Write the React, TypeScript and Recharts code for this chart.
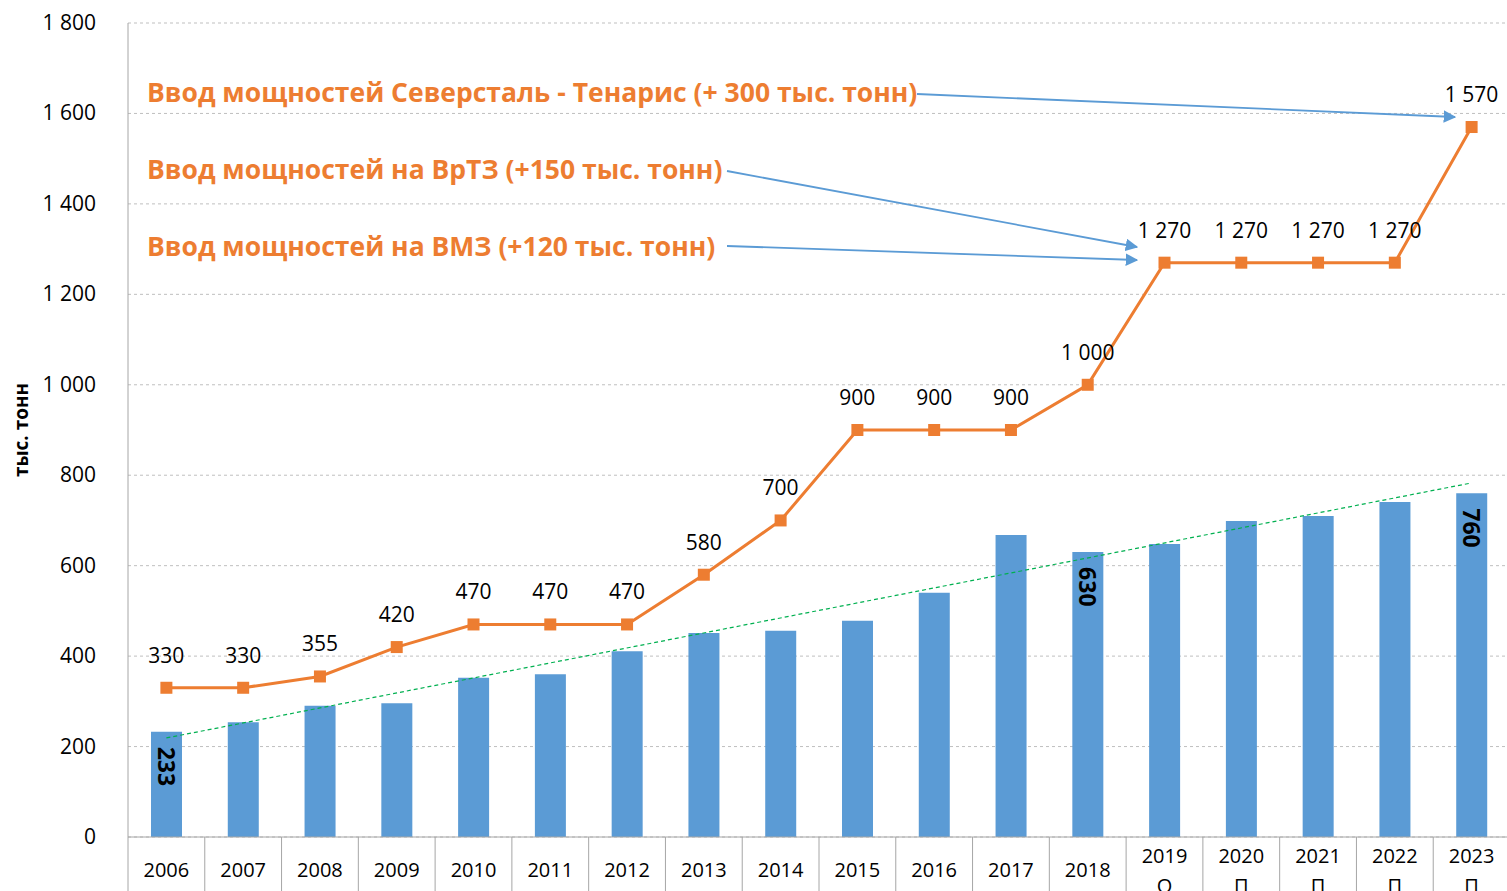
import React from 'react';
import { ComposedChart, Bar, Line, XAxis, YAxis, CartesianGrid, LabelList } from 'recharts';

const years = ['2006', '2007', '2008', '2009', '2010', '2011', '2012', '2013', '2014', '2015', '2016', '2017', '2018', '2019', '2020', '2021', '2022', '2023'];
const yearNotes = ['', '', '', '', '', '', '', '', '', '', '', '', '', 'О', 'П', 'П', 'П', 'П'];
const production = [233, 254, 290, 296, 352, 360, 411, 451, 456, 478, 540, 668, 630, 648, 699, 710, 741, 760];
const capacity = [330, 330, 355, 420, 470, 470, 470, 580, 700, 900, 900, 900, 1000, 1270, 1270, 1270, 1270, 1570];
const trendEnds: (number | null)[] = [219, null, null, null, null, null, null, null, null, null, null, null, null, null, null, null, null, 783];
const barLabelYears = ['2006', '2018', '2023'];
const yTicks = [0, 200, 400, 600, 800, 1000, 1200, 1400, 1600, 1800];
const annotations = [
  'Ввод мощностей Северсталь - Тенарис (+ 300 тыс. тонн)',
  'Ввод мощностей на ВрТЗ (+150 тыс. тонн)',
  'Ввод мощностей на ВМЗ (+120 тыс. тонн)',
];

const data = years.map((y, i) => ({
  year: y,
  note: yearNotes[i],
  production: production[i],
  capacity: capacity[i],
  trend: trendEnds[i],
}));

const FONT = "'Open Sans', Lato, sans-serif";
const BAR = '#5B9BD5';
const ORANGE = '#ED7D31';
const AXIS = '#A6A6A6';
const BAND = 1382 / 18;

const fmt = (v: any) => {
  const n = Number(v);
  if (n >= 1000) {
    const s = String(n);
    return s.slice(0, s.length - 3) + ' ' + s.slice(s.length - 3);
  }
  return String(n);
};

const XTick = (props: any) => {
  const { x, y, payload } = props;
  const idx = payload.index;
  const note = yearNotes[idx];
  const left = x - BAND / 2;
  return (
    <g>
      <line x1={left} y1={y} x2={left} y2={y + 60} stroke={AXIS} strokeWidth={1} />
      {note ? (
        <>
          <text x={x} y={y + 26} textAnchor="middle" fontFamily={FONT} fontSize={20} fill="#000">{payload.value}</text>
          <text x={x} y={y + 56} textAnchor="middle" fontFamily={FONT} fontSize={20} fill="#000">{note}</text>
        </>
      ) : (
        <text x={x} y={y + 40} textAnchor="middle" fontFamily={FONT} fontSize={20} fill="#000">{payload.value}</text>
      )}
    </g>
  );
};

const YTick = (props: any) => {
  const { x, y, payload } = props;
  return (
    <text x={x - 24} y={y + 7} textAnchor="end" fontFamily={FONT} fontSize={21} fill="#000">
      {fmt(payload.value)}
    </text>
  );
};

const SquareDot = (props: any) => {
  const { cx, cy } = props;
  if (cx == null || cy == null) return null;
  return <rect x={cx - 6} y={cy - 6} width={12} height={12} fill={ORANGE} />;
};

const BarLabel = (props: any) => {
  const { x, y, width, value, index } = props;
  if (!barLabelYears.includes(years[index])) return null;
  const cx = x + width / 2;
  const ty = y + 15;
  return (
    <text
      x={cx}
      y={ty}
      transform={`rotate(90 ${cx} ${ty})`}
      textAnchor="start"
      dominantBaseline="central"
      fontFamily={FONT}
      fontWeight="bold"
      fontSize={23}
      fill="#000"
    >
      {value}
    </text>
  );
};

export default function App() {
  return (
    <div style={{ position: 'fixed', left: 0, top: 0, width: 1507, height: 891, overflow: 'hidden', background: '#fff' }}>
      <ComposedChart
        width={1510}
        height={891}
        data={data}
        margin={{ top: 23, right: 0, bottom: 0, left: 0 }}
      >
        <CartesianGrid vertical={false} stroke="#BFBFBF" strokeDasharray="3 3" />
        <XAxis
          dataKey="year"
          height={54}
          interval={0}
          tickLine={false}
          tickSize={0}
          tickMargin={0}
          axisLine={{ stroke: AXIS }}
          tick={<XTick />}
        />
        <YAxis
          width={128}
          domain={[0, 1800]}
          ticks={yTicks}
          interval={0}
          tickLine={false}
          axisLine={{ stroke: AXIS }}
          tick={<YTick />}
        />
        <Bar dataKey="production" fill={BAR} barSize={31} isAnimationActive={false}>
          <LabelList dataKey="production" content={<BarLabel />} />
        </Bar>
        <Line
          dataKey="trend"
          stroke="#00B050"
          strokeWidth={1.2}
          strokeDasharray="4 3"
          dot={false}
          connectNulls
          isAnimationActive={false}
        />
        <Line
          dataKey="capacity"
          stroke={ORANGE}
          strokeWidth={3}
          dot={<SquareDot />}
          isAnimationActive={false}
        >
          <LabelList
            dataKey="capacity"
            position="top"
            offset={25}
            formatter={fmt}
            style={{ fontFamily: FONT, fontSize: 21, fill: '#000' }}
          />
        </Line>
      </ComposedChart>
      <svg width={1507} height={891} style={{ position: 'absolute', left: 0, top: 0, pointerEvents: 'none' }}>
        <defs>
          <marker id="arr" viewBox="0 0 10 10" refX="9" refY="5" markerWidth="7" markerHeight="7" orient="auto-start-reverse">
            <path d="M0,0 L10,5 L0,10 z" fill="#5B9BD5" />
          </marker>
        </defs>
        <text x={21} y={430} transform="rotate(-90 21 430)" textAnchor="middle" dominantBaseline="central" fontFamily={FONT} fontWeight="bold" fontSize={19} fill="#000">
          тыс. тонн
        </text>
        <text x={147} y={102} fontFamily={FONT} fontWeight="bold" fontSize={26.5} fill={ORANGE}>{annotations[0]}</text>
        <text x={147} y={179} fontFamily={FONT} fontWeight="bold" fontSize={26.5} fill={ORANGE}>{annotations[1]}</text>
        <text x={147} y={256} fontFamily={FONT} fontWeight="bold" fontSize={26.5} fill={ORANGE}>{annotations[2]}</text>
        <line x1={917} y1={94} x2={1455} y2={117} stroke="#5B9BD5" strokeWidth={1.8} markerEnd="url(#arr)" />
        <line x1={727} y1={171} x2={1137} y2={247} stroke="#5B9BD5" strokeWidth={1.8} markerEnd="url(#arr)" />
        <line x1={727} y1={246} x2={1137} y2={260} stroke="#5B9BD5" strokeWidth={1.8} markerEnd="url(#arr)" />
      </svg>
    </div>
  );
}
